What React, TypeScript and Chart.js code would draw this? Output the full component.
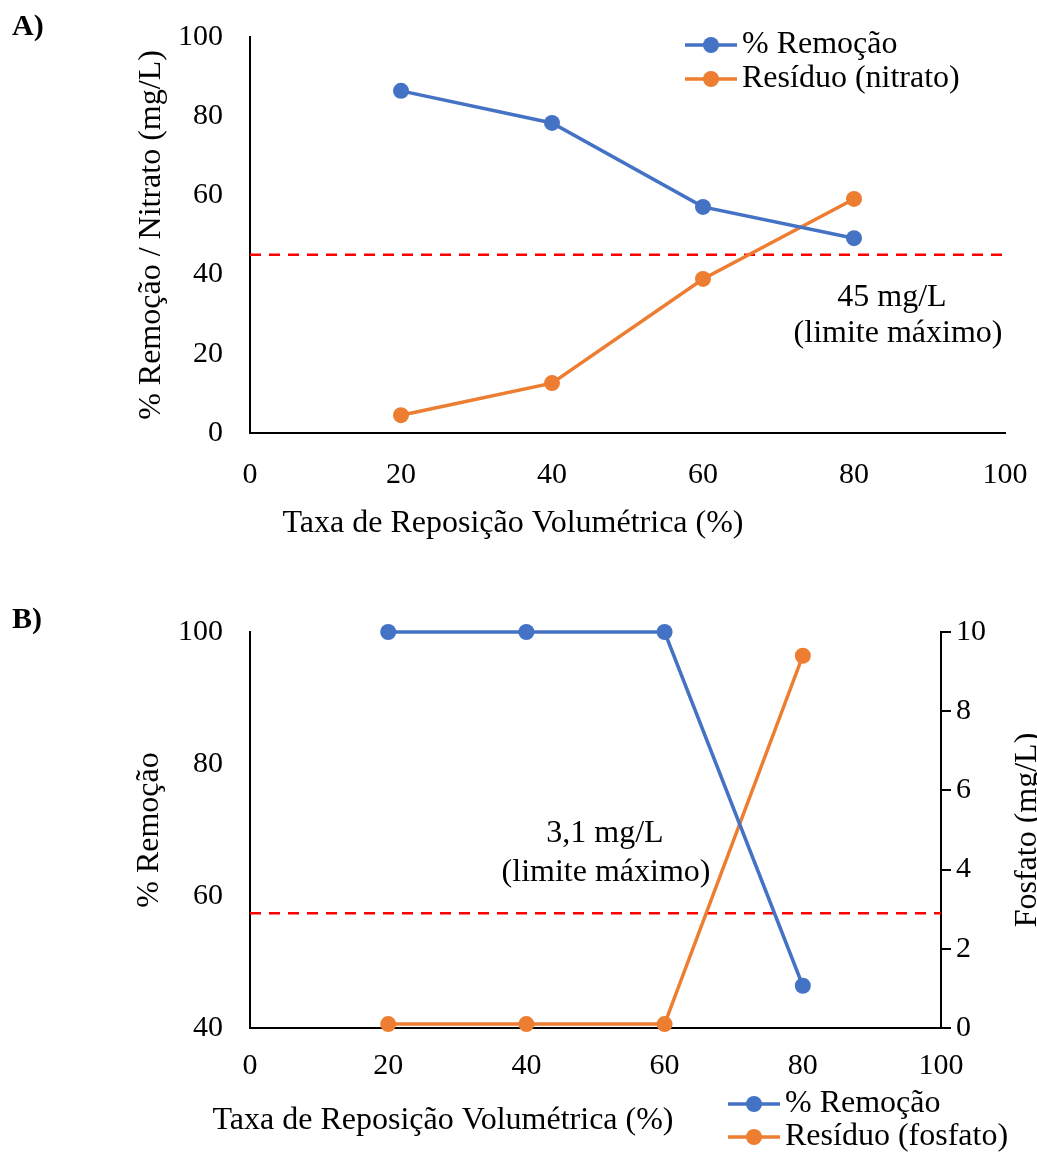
import React, { useEffect, useRef } from 'react';
import { Chart, registerables } from 'chart.js';
Chart.register(...registerables);

const xValues = [20, 40, 60, 80];
const remocaoA = [86.4, 78.3, 57.1, 49.2];
const nitratoA = [4.5, 12.6, 38.9, 59.1];
const limiteA = 45;
const remocaoB = [100, 100, 100, 46.4];
const fosfatoB = [0.1, 0.1, 0.1, 9.4];
const limiteB = 2.9;
const xRange = [0, 100];
const labelsA = ['% Remoção', 'Resíduo (nitrato)'];
const labelsB = ['% Remoção', 'Resíduo (fosfato)'];

const FONT = "'Liberation Serif', 'Times New Roman', serif";
const BLUE = '#4472C4';
const ORANGE = '#ED7D31';
const RED = '#FF0000';
const TEXT_SIZE = 32;

const overlayPlugin = {
  id: 'overlay',
  afterDraw(chart: any) {
    const opts = chart.options.plugins.overlay;
    if (!opts) return;
    const ctx = chart.ctx;
    ctx.save();
    for (const t of opts.texts || []) {
      ctx.save();
      ctx.font = `${t.bold ? 'bold ' : ''}${t.size || TEXT_SIZE}px ${FONT}`;
      ctx.fillStyle = '#000';
      ctx.textAlign = t.align || 'center';
      ctx.textBaseline = 'middle';
      ctx.translate(t.x, t.y);
      if (t.rotate) ctx.rotate(t.rotate);
      ctx.fillText(t.text, 0, 0);
      ctx.restore();
    }
    for (const l of opts.legend || []) {
      const ds = chart.data.datasets[l.index];
      ctx.strokeStyle = ds.borderColor;
      ctx.lineWidth = 3.5;
      ctx.beginPath();
      ctx.moveTo(l.x, l.y);
      ctx.lineTo(l.x + 52, l.y);
      ctx.stroke();
      ctx.fillStyle = ds.borderColor;
      ctx.beginPath();
      ctx.arc(l.x + 26, l.y, 8, 0, Math.PI * 2);
      ctx.fill();
      ctx.fillStyle = '#000';
      ctx.font = `${TEXT_SIZE}px ${FONT}`;
      ctx.textAlign = 'left';
      ctx.textBaseline = 'middle';
      ctx.fillText(ds.label, l.x + 57, l.y);
    }
    ctx.restore();
  },
};

function series(label: string, ys: number[], color: string, axis: string) {
  return {
    label,
    data: xValues.map((x, i) => ({ x, y: ys[i] })),
    borderColor: color,
    backgroundColor: color,
    borderWidth: 3.5,
    pointRadius: 8,
    pointBorderWidth: 0,
    pointBackgroundColor: color,
    yAxisID: axis,
    clip: false as any,
  };
}

function limitSeries(v: number, axis: string) {
  return {
    label: 'limite',
    data: xRange.map((x) => ({ x, y: v })),
    borderColor: RED,
    borderWidth: 2.5,
    borderDash: [11, 8],
    pointRadius: 0,
    yAxisID: axis,
    clip: false as any,
  };
}

const tickFont = { family: FONT, size: 30 };

function fixSize(dim: 'width' | 'height', v: number) {
  return (s: any) => {
    s[dim] = v;
    s.paddingLeft = 0;
    s.paddingRight = 0;
    s.paddingTop = 0;
    s.paddingBottom = 0;
  };
}

function ChartA() {
  const ref = useRef<HTMLCanvasElement>(null);
  useEffect(() => {
    const chart = new Chart(ref.current!, {
      type: 'line',
      data: {
        datasets: [
          series(labelsA[0], remocaoA, BLUE, 'y'),
          series(labelsA[1], nitratoA, ORANGE, 'y'),
          limitSeries(limiteA, 'y'),
        ] as any,
      },
      plugins: [overlayPlugin],
      options: {
        animation: false,
        responsive: false,
        layout: { padding: { top: 37, right: 32, left: 0, bottom: 0 } },
        plugins: {
          legend: { display: false },
          tooltip: { enabled: false },
          overlay: {
            texts: [
              { text: 'A)', x: 12, y: 27, align: 'left', bold: true, size: 30 },
              { text: '% Remoção / Nitrato (mg/L)', x: 152, y: 235, rotate: -Math.PI / 2 },
              { text: 'Taxa de Reposição Volumétrica (%)', x: 513, y: 524 },
              { text: '45 mg/L', x: 892, y: 298 },
              { text: '(limite máximo)', x: 898, y: 334 },
            ],
            legend: [
              { index: 0, x: 685, y: 45 },
              { index: 1, x: 685, y: 79 },
            ],
          },
        } as any,
        scales: {
          x: {
            type: 'linear',
            min: 0,
            max: 100,
            afterFit: fixSize('height', 137),
            ticks: { stepSize: 20, font: tickFont, color: '#000', padding: 24 },
            grid: { display: false, drawTicks: false },
            border: { display: true, color: '#000', width: 2 },
          },
          y: {
            type: 'linear',
            min: 0,
            max: 100,
            afterFit: fixSize('width', 250),
            ticks: { stepSize: 20, font: tickFont, color: '#000', padding: 27 },
            grid: { display: false, drawTicks: false },
            border: { display: true, color: '#000', width: 2 },
          },
        },
      } as any,
    });
    return () => chart.destroy();
  }, []);
  return <canvas ref={ref} width={1037} height={570} style={{ position: 'absolute', left: 0, top: 0 }} />;
}

function ChartB() {
  const ref = useRef<HTMLCanvasElement>(null);
  useEffect(() => {
    const chart = new Chart(ref.current!, {
      type: 'line',
      data: {
        datasets: [
          series(labelsB[0], remocaoB, BLUE, 'y'),
          series(labelsB[1], fosfatoB, ORANGE, 'y1'),
          limitSeries(limiteB, 'y1'),
        ] as any,
      },
      plugins: [overlayPlugin],
      options: {
        animation: false,
        responsive: false,
        layout: { padding: { top: 62, right: 0, left: 0, bottom: 0 } },
        plugins: {
          legend: { display: false },
          tooltip: { enabled: false },
          overlay: {
            texts: [
              { text: 'B)', x: 12, y: 50, align: 'left', bold: true, size: 30 },
              { text: '% Remoção', x: 150, y: 260, rotate: -Math.PI / 2 },
              { text: 'Fosfato (mg/L)', x: 1028, y: 260, rotate: -Math.PI / 2 },
              { text: 'Taxa de Reposição Volumétrica (%)', x: 443, y: 551 },
              { text: '3,1 mg/L', x: 605, y: 264 },
              { text: '(limite máximo)', x: 606, y: 303 },
            ],
            legend: [
              { index: 0, x: 728, y: 534 },
              { index: 1, x: 728, y: 567 },
            ],
          },
        } as any,
        scales: {
          x: {
            type: 'linear',
            min: 0,
            max: 100,
            afterFit: fixSize('height', 125),
            ticks: { stepSize: 20, font: tickFont, color: '#000', padding: 20 },
            grid: { display: false, drawTicks: false },
            border: { display: true, color: '#000', width: 2 },
          },
          y: {
            type: 'linear',
            position: 'left',
            min: 40,
            max: 100,
            afterFit: fixSize('width', 250),
            ticks: { stepSize: 20, font: tickFont, color: '#000', padding: 27 },
            grid: { display: false, drawTicks: false },
            border: { display: true, color: '#000', width: 2 },
          },
          y1: {
            type: 'linear',
            position: 'right',
            min: 0,
            max: 10,
            afterFit: fixSize('width', 96),
            ticks: { stepSize: 2, font: tickFont, color: '#000', padding: 5 },
            grid: {
              display: true,
              drawOnChartArea: false,
              drawTicks: true,
              tickLength: 10,
              color: '#000',
              lineWidth: 2,
            },
            border: { display: true, color: '#000', width: 2 },
          },
        },
      } as any,
    });
    return () => chart.destroy();
  }, []);
  return <canvas ref={ref} width={1037} height={583} style={{ position: 'absolute', left: 0, top: 570 }} />;
}

export default function App() {
  return (
    <div style={{ position: 'absolute', left: 0, top: 0, width: 1037, height: 1153, background: '#fff' }}>
      <ChartA />
      <ChartB />
    </div>
  );
}
